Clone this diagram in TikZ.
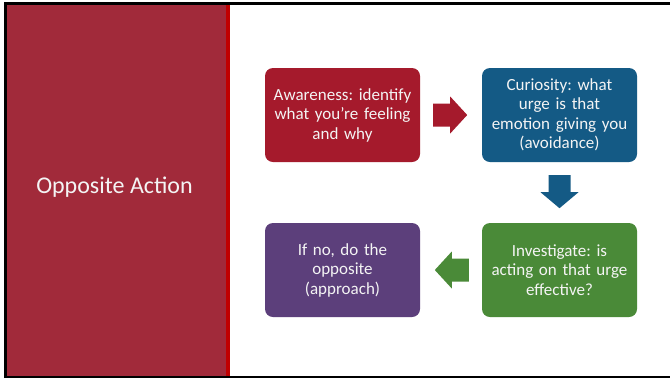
\documentclass[tikz,border=0pt]{standalone}
\usepackage{fontspec}
\setmainfont{Carlito}
\usetikzlibrary{calc}
\frenchspacing
\definecolor{panelred}{HTML}{A12A3A}
\definecolor{stripered}{HTML}{C00000}
\definecolor{boxred}{HTML}{A51A2C}
\definecolor{boxblue}{HTML}{145A85}
\definecolor{boxgreen}{HTML}{4A8A38}
\definecolor{boxpurple}{HTML}{5C3F7B}
\definecolor{softwhite}{HTML}{F4F4F4}
\tikzset{
  stepbox/.style={rectangle, rounded corners=8bp, minimum width=155bp, minimum height=94bp,
    inner sep=0pt, text width=150bp, align=center, text=softwhite,
    font=\fontsize{17bp}{19.5bp}\selectfont},
}
\begin{document}
\begin{tikzpicture}[x=1bp,y=-1bp]
\useasboundingbox (0,0) rectangle (670,378);
% slide frame and title panel
\fill[black] (3.5,2) rectangle (670,378);
\fill[white] (6.5,5) rectangle (670,375.5);
\fill[panelred] (6.5,5) rectangle (226,375.5);
\fill[stripered] (226,5) rectangle (230,375.5);
\node[text=softwhite, font=\fontsize{24bp}{28bp}\selectfont] (title) at (114.5,187) {Opposite Action};
% process steps
\node[stepbox, fill=boxred] (aw) at (342.5,115) {Awareness: identify\\ what you’re feeling\\ and why};
\node[stepbox, fill=boxblue] (cu) at (559.5,115) {Curiosity: what\\ urge is that\\ emotion giving you\\ (avoidance)};
\node[stepbox, fill=boxgreen] (inv) at (559.5,270) {Investigate: is\\ acting on that urge\\ effective?};
\node[stepbox, fill=boxpurple] (opp) at (342.5,270) {If no, do the\\ opposite\\ (approach)};
% block arrows between steps
\fill[boxred] ($(aw.east)+(13,-11.5)$) -- ++(17,0) -- ++(0,-7) -- ++(17,18.5)
  -- ++(-17,18.5) -- ++(0,-7) -- ++(-17,0) -- cycle;
\fill[boxblue] ($(cu.south)+(-11,13)$) -- ++(0,17) -- ++(-8,0) -- ++(19,16)
  -- ++(19,-16) -- ++(-8,0) -- ++(0,-17) -- cycle;
\fill[boxgreen] ($(inv.west)+(-13,-11.5)$) -- ++(-17,0) -- ++(0,-7) -- ++(-17,18.5)
  -- ++(17,18.5) -- ++(0,-7) -- ++(17,0) -- cycle;
\end{tikzpicture}
\end{document}
